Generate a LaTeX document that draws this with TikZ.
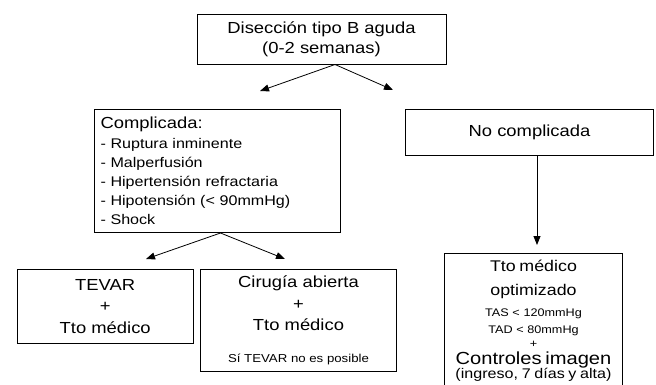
\documentclass[tikz,border=0pt]{standalone}
\usepackage{fontspec}
\setmainfont{Liberation Sans}[FakeStretch=1.15]
\usepackage{tikz}
\usetikzlibrary{arrows.meta,positioning}

\newcommand{\fs}[2]{\fontsize{#1}{#2}\selectfont\lineskiplimit=-50pt}

\begin{document}
\begin{tikzpicture}[x=1pt, y=-1pt,
    box/.style={shape=rectangle, draw=black, line width=1pt, inner sep=0pt, align=center},
    >={Triangle[length=9pt,width=7pt]},
    every edge/.style={draw, line width=0.8pt}]
  \useasboundingbox (0,0) rectangle (656,384);

  \node[box, minimum width=249pt, minimum height=50pt, font=\fs{16}{20}] (Dis) at (321.5,39)
       {Disección tipo B aguda\\(0-2 semanas)};
  \node[box, anchor=north west, text width=234pt, inner xsep=6pt, inner ysep=4pt,
        minimum height=123pt, align=left, font=\fs{14}{19}] (Comp) at (94,109)
       {{\fs{16}{19}Complicada:}\\[1pt]
        - Ruptura inminente\\
        - Malperfusión\\
        - Hipertensión refractaria\\
        - Hipotensión (< 90mmHg)\\
        - Shock};
  \node[box, minimum width=248pt, minimum height=46pt, font=\fs{16}{19}] (NoComp) at (529.5,132)
       {No complicada};

  \node[box, anchor=north west, minimum width=176pt, minimum height=73.4pt,
        font=\fs{16}{21.2}] (Tevar) at (16.7,269.3)
       {TEVAR\\+\\Tto médico};
  \node[box, below right=0pt and 6.3pt of Tevar.north east, anchor=north west,
        minimum width=196pt, minimum height=101.4pt, font=\fs{16}{21.2}] (Cir)
       {Cirugía abierta\\+\\Tto médico\\[11.1pt]{\fs{11.5}{14}Sí TEVAR no es posible}};
  \node[box, anchor=north, text width=178pt, inner ysep=7pt, font=\fs{11}{15}] (Tto) at (533.5,252.7)
       {{\fs{15.5}{15}Tto médico}\\[8.4pt]
        {\fs{15.5}{15}optimizado}\\[6.6pt]
        TAS < 120mmHg\\[1.7pt]
        TAD < 80mmHg\\[-0.5pt]
        +\\[1.5pt]
        {\fs{17.5}{15}Controles imagen}\\[-0.8pt]
        {\fs{14}{15}(ingreso, 7 días y alta)}};

  \coordinate (DisL) at (260,91);
  \coordinate (DisR) at (393,90);
  \coordinate (CompL) at (146,259);
  \coordinate (CompR) at (285,259);
  \coordinate (NoCompD) at (537,245);

  \path [->] ([xshift=13.5pt]Dis.south) edge (DisL);
  \path [->] ([xshift=13.5pt]Dis.south) edge (DisR);
  \path [->] ([xshift=3pt]Comp.south) edge (CompL);
  \path [->] ([xshift=3pt]Comp.south) edge (CompR);
  \path [->] (NoComp.south -| NoCompD) edge (NoCompD);
\end{tikzpicture}
\end{document}
